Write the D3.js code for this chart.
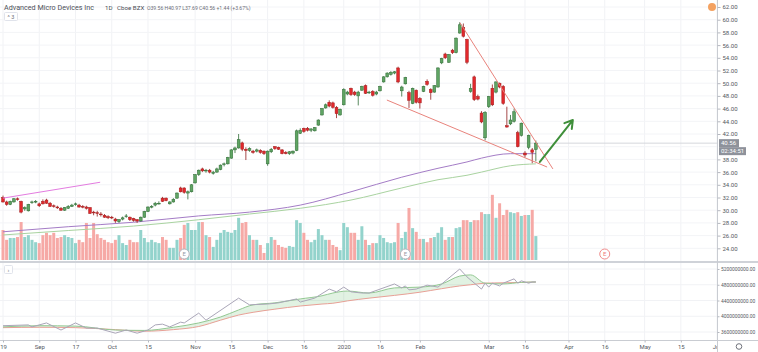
<!DOCTYPE html>
<html>
<head>
<meta charset="utf-8">
<script src="https://cdn.jsdelivr.net/npm/d3@7"></script>
<style>
body { margin: 0; background: #ffffff; }
svg { display: block; font-family: Roboto, 'Liberation Sans', sans-serif; }
</style>
</head>
<body>
<svg id="chart" width="758" height="352"></svg>
<script>
// daily candles, Aug 19 2019 .. Mar 2020 (bar index 0 = Aug 19)
var open = [32.0,31.3,30.9,31.3,31.8,31.4,30.2,29.9,31.2,31.3,
    31.0,31.4,31.6,31.1,30.7,30.5,30.3,30.0,30.3,30.6,
    30.9,30.8,30.6,30.5,30.4,29.7,29.6,29.4,29.2,29.0,
    28.9,28.6,28.2,28.6,29.0,28.9,28.7,28.5,28.3,28.9,
    29.8,30.5,30.8,31.1,31.9,31.9,31.0,31.3,31.9,33.5,
    33.5,32.7,32.9,34.3,35.6,36.5,36.2,36.3,35.8,36.0,
    36.4,37.2,37.3,38.2,39.5,39.8,40.6,39.6,39.4,39.3,
    39.3,39.4,39.3,37.3,39.2,40.0,39.9,39.5,39.1,38.9,
    39.0,39.4,42.1,42.9,42.9,42.6,42.5,43.4,45.0,46.1,
    47.0,46.9,46.2,45.0,46.6,48.3,49.2,48.6,48.0,48.9,
    49.6,48.5,48.7,48.3,48.8,50.2,51.0,51.4,51.6,52.4,
    48.8,49.9,48.5,46.8,48.9,47.6,48.7,50.3,49.0,48.6,
    49.4,53.2,54.6,53.3,55.2,54.8,57.9,58.8,56.9,48.7,
    51.0,47.9,45.3,41.4,46.3,49.2,48.6,50.0,49.5,43.3,
    43.6,44.0,42.2,41.8,39.0,39.9,39.5,39.56];
var high = [32.3,31.5,31.5,31.9,32.0,31.5,30.6,31.0,31.5,31.6,
    31.2,31.7,31.8,31.3,30.9,30.7,30.5,30.5,30.8,31.0,
    31.2,31.0,30.8,30.7,30.5,29.9,29.9,29.7,29.4,29.2,
    29.1,28.8,28.6,29.0,29.4,29.0,28.8,28.6,29.0,29.9,
    30.6,30.8,31.3,31.4,32.1,32.0,31.4,31.9,32.8,33.7,
    33.6,33.1,34.1,35.7,36.4,36.7,36.5,36.5,36.2,36.7,
    37.2,37.5,38.4,39.6,40.0,42.0,40.8,39.9,39.9,39.5,
    39.7,39.6,39.4,39.4,39.8,40.1,40.0,39.6,39.3,39.3,
    39.4,42.7,42.9,43.0,43.1,42.9,43.1,44.3,46.1,46.8,
    47.3,47.1,46.4,46.0,49.2,48.8,49.3,48.8,48.8,49.6,
    49.8,48.8,48.9,48.8,49.6,51.1,51.7,51.9,51.9,52.6,
    49.6,51.0,48.8,49.3,49.0,47.8,49.6,50.6,49.2,49.7,
    52.5,54.0,54.8,54.6,55.4,57.2,59.6,59.4,57.0,49.9,
    51.2,48.2,45.6,45.6,48.0,49.8,50.3,50.1,49.7,46.3,
    45.0,46.0,42.5,43.8,39.3,41.9,39.8,40.97];
var low = [31.2,30.7,30.8,31.2,31.5,29.5,29.9,29.8,31.0,31.1,
    30.5,30.9,31.0,30.5,30.4,30.2,29.9,29.9,30.2,30.5,
    30.7,30.4,30.3,30.1,29.4,29.2,29.0,29.0,28.8,28.6,
    28.6,28.0,28.0,28.4,28.8,28.3,28.2,28.0,28.2,28.8,
    29.7,30.3,30.6,30.9,31.3,31.4,30.9,31.2,31.8,32.8,
    32.6,31.7,32.8,34.2,35.4,36.0,35.9,35.8,35.6,35.9,
    36.3,36.9,37.2,38.1,39.0,39.7,39.3,37.9,39.2,38.9,
    39.1,38.9,38.7,37.0,39.0,39.5,39.5,38.8,38.8,38.7,
    38.8,39.3,42.0,42.2,42.4,42.3,42.4,43.3,44.9,46.0,
    46.2,46.0,44.5,44.9,46.5,48.1,48.0,48.0,46.5,48.8,
    48.3,48.3,47.9,48.1,48.7,50.1,50.9,51.2,51.4,50.0,
    47.9,49.8,46.1,46.7,46.8,46.0,48.6,49.6,47.4,48.5,
    49.3,53.0,53.8,53.2,54.6,54.7,57.8,57.2,53.0,48.5,
    47.2,47.3,43.7,41.0,46.1,46.4,48.4,49.2,46.6,43.0,
    43.4,43.8,39.9,41.6,38.3,39.6,37.4,37.69];
var close = [31.3,30.9,31.4,31.8,31.7,29.7,30.4,30.9,31.3,31.4,
    30.7,31.0,31.1,30.6,30.6,30.4,30.0,30.4,30.6,30.8,
    31.0,30.5,30.5,30.3,29.5,29.6,29.5,29.3,28.9,28.8,
    28.8,28.3,28.5,28.8,29.1,28.5,28.4,28.3,28.9,29.8,
    30.5,30.6,31.1,31.1,31.4,31.5,31.3,31.7,32.7,32.9,
    32.8,32.9,34.0,35.6,36.3,36.2,36.3,36.0,36.0,36.5,
    37.1,37.3,38.3,39.5,39.8,41.1,39.6,39.4,39.7,39.1,
    39.5,39.1,38.9,39.3,39.6,39.7,39.6,38.9,38.9,39.2,
    39.3,42.5,42.6,42.4,42.6,42.8,43.0,44.2,46.0,46.6,
    46.4,46.2,45.2,45.9,49.0,48.6,48.2,48.2,48.6,49.5,
    48.4,48.6,48.1,48.6,49.5,51.0,51.6,51.7,51.8,50.2,
    49.4,50.9,47.3,49.2,47.0,46.9,49.5,49.8,48.5,49.6,
    52.4,53.9,54.0,54.5,54.8,57.1,59.2,57.4,53.3,49.2,
    47.4,47.5,43.9,45.4,47.9,46.6,50.2,49.4,46.8,43.1,
    44.2,45.5,40.0,43.7,38.7,41.8,39.12,40.56];
// volume, millions of shares
var volume = [64,43,47,47,49,81,49,53,43,38,
    36,53,58,53,58,47,49,53,49,47,
    36,43,38,79,47,79,55,47,43,38,
    36,43,53,36,32,43,38,38,64,47,
    38,43,38,36,49,43,26,26,43,47,
    75,79,64,64,81,81,53,49,28,43,
    58,64,60,58,64,90,79,81,53,43,
    43,32,15,36,49,43,32,28,26,30,
    28,85,79,58,43,38,43,66,53,43,
    43,32,28,21,79,70,58,58,43,72,
    43,32,36,36,53,47,38,36,38,79,
    47,60,111,68,60,45,45,38,47,49,
    58,70,43,49,49,68,70,85,85,81,
    85,85,102,98,98,139,90,121,96,107,
    102,100,102,94,96,96,107,51];

// moving averages (sampled at bar indexes)
var maIdx = [0, 18, 36, 54, 68, 82, 96, 110, 120, 128, 132, 140, 147];
var maPurple = [26.6, 27.4, 28.1, 29.1, 29.7, 30.8, 32.9, 35.2, 36.6, 37.6, 38.2, 38.9, 38.9];
var maGreen = [26.1, 26.8, 27.5, 28.5, 29.4, 30.3, 31.6, 33.5, 34.8, 35.5, 36.0, 37.0, 37.3];

// lower pane (billions)
var obvIdx = [0,7,8,12,16,20,23,26,31,34,37,40,42,44,46,49,50,54,56,65,
    68,73,76,81,82,86,90,92,94,96,99,101,108,110,111,112,114,117,120,126,
    128,132,133,134,135,137,138,141,142,143,145,146,147];
var obvVal = [3.76,3.78,3.73,3.83,3.65,3.83,3.70,3.70,3.57,3.65,3.57,3.65,3.78,3.80,3.73,3.85,3.83,4.08,3.90,4.46,
    4.29,4.31,4.34,4.44,4.36,4.46,4.69,4.62,4.74,4.62,4.59,4.59,4.82,4.72,4.77,4.67,4.69,4.79,4.74,5.20,
    5.00,4.69,4.84,4.74,4.84,4.77,4.84,4.95,4.84,4.90,4.84,4.87,4.87];
var bandIdx = [0,10,20,31,39,47,54,60,65,69,75,82,88,91,95,101,108,115,121,126,129,133,138,143,147];
var bandFast = [3.73,3.76,3.75,3.65,3.64,3.72,3.83,3.98,4.16,4.29,4.34,4.44,4.52,4.59,4.64,4.59,4.72,4.74,4.82,5.02,5.05,4.84,4.82,4.86,4.87];
var bandSlow = [3.71,3.72,3.71,3.66,3.62,3.66,3.74,3.90,4.03,4.10,4.18,4.26,4.31,4.33,4.39,4.46,4.53,4.61,4.70,4.77,4.80,4.84,4.85,4.86,4.87];

// time axis ticks (bar index, label)
var tickIdx = [0, 10, 20, 30, 40, 53, 63, 73, 83, 94, 104, 115, 134, 144, 156, 166, 177, 187, 197];
var tickLabel = ['19', 'Sep', '17', 'Oct', '15', 'Nov', '15', 'Dec', '16', '2020', '16', 'Feb', 'Mar', '16', 'Apr', '16', 'May', '15', 'Jun'];
var priceTicks = [24, 26, 28, 30, 32, 34, 36, 38, 40, 42, 44, 46, 48, 50, 52, 54, 56, 58, 60, 62];
var lowTicks = [3.6, 4.0, 4.4, 4.8, 5.2];
var earningsIdx = [50, 111, 166];

// drawings: [bar index, price]
var wedgeUpper = [[126.1, 59.5], [151.7, 36.5]];
var wedgeLower = [[105.9, 47.35], [150.1, 36.8]];
var channelLine = [[0, 31.9], [26.8, 34.4]];
var arrowLine = [[148.1, 37.6], [157.2, 44.2]];

var lastPrice = 40.56;

//layout
var plotRight = 717, paneBottom = 261, lowTop = 263, lowBottom = 340;

var svg = d3.select('#chart');

var x = d3.scaleLinear().domain([0, 197]).range([3, 717.1]);
var y = d3.scaleLinear().domain([24, 62]).range([248.3, 7]);
var yVol = d3.scaleLinear().domain([0, 160]).range([260, 185]);
var yLow = d3.scaleLinear().domain([3.6, 5.2]).range([332, 269]);

var defs = svg.append('defs');
defs.append('clipPath').attr('id', 'clipMain')
    .append('rect').attr('x', 0).attr('y', 0).attr('width', plotRight).attr('height', paneBottom);
defs.append('clipPath').attr('id', 'clipLow')
    .append('rect').attr('x', 0).attr('y', lowTop).attr('width', plotRight).attr('height', lowBottom - lowTop);
defs.append('clipPath').attr('id', 'clipAxisT')
    .append('rect').attr('x', 0).attr('y', -2).attr('width', plotRight).attr('height', 14);

// grid
var grid = svg.append('g').attr('class', 'grid');
grid.selectAll('.vgrid').data(tickIdx).enter().append('line')
    .attr('x1', function (d) { return x(d); }).attr('x2', function (d) { return x(d); })
    .attr('y1', 0).attr('y2', lowBottom)
    .attr('stroke', '#f1f2f5').attr('stroke-width', 1);
grid.selectAll('.hgrid').data(priceTicks).enter().append('line')
    .attr('x1', 0).attr('x2', plotRight)
    .attr('y1', function (d) { return y(d); }).attr('y2', function (d) { return y(d); })
    .attr('stroke', '#f3f4f7').attr('stroke-width', 1);
grid.selectAll('.lgrid').data(lowTicks).enter().append('line')
    .attr('x1', 0).attr('x2', plotRight)
    .attr('y1', function (d) { return yLow(d); }).attr('y2', function (d) { return yLow(d); })
    .attr('stroke', '#f1f2f5').attr('stroke-width', 1);

var bars = close.map(function (c, i) {
    return { i: i, o: open[i], h: high[i], l: low[i], c: c, v: volume[i] };
});

var main = svg.append('g').attr('clip-path', 'url(#clipMain)');

// volume
main.selectAll('.vol').data(bars).enter().append('rect')
    .attr('x', function (d) { return x(d.i) - 1.5; })
    .attr('width', 3)
    .attr('y', function (d) { return yVol(d.v); })
    .attr('height', function (d) { return yVol(0) - yVol(d.v); })
    .attr('fill', function (d) { return d.c >= d.o ? '#93d3cc' : '#f6a9a6'; });

// moving averages
var maLine = function (vals) {
    return d3.line()
        .x(function (d, i) { return x(maIdx[i]); })
        .y(function (d) { return y(d); })
        .curve(d3.curveMonotoneX)(vals);
};
main.append('path').attr('d', maLine(maGreen))
    .attr('fill', 'none').attr('stroke', '#a9d3a0').attr('stroke-width', 1);
main.append('path').attr('d', maLine(maPurple))
    .attr('fill', 'none').attr('stroke', '#a47cc6').attr('stroke-width', 1);

// last price line
main.append('line')
    .attr('x1', 0).attr('x2', plotRight)
    .attr('y1', y(lastPrice)).attr('y2', y(lastPrice))
    .attr('stroke', '#d5d7dc').attr('stroke-width', 1);

// candles
var candle = main.selectAll('.candle').data(bars).enter().append('g');
candle.append('line')
    .attr('x1', function (d) { return x(d.i); }).attr('x2', function (d) { return x(d.i); })
    .attr('y1', function (d) { return y(d.h); }).attr('y2', function (d) { return y(d.l); })
    .attr('stroke', function (d) { return d.c >= d.o ? '#2f6b35' : '#8e1c1c'; })
    .attr('stroke-width', 0.8);
candle.append('rect')
    .attr('x', function (d) { return x(d.i) - 1.4; })
    .attr('width', 2.8)
    .attr('y', function (d) { return y(Math.max(d.o, d.c)); })
    .attr('height', function (d) { return Math.max(0.8, Math.abs(y(d.o) - y(d.c))); })
    .attr('fill', function (d) { return d.c >= d.o ? '#5fa463' : '#e2282c'; })
    .attr('stroke', function (d) { return d.c >= d.o ? '#2f6b35' : '#a31e1e'; })
    .attr('stroke-width', 0.5);

// drawings
var pt = function (p) { return [x(p[0]), y(p[1])]; };
var seg = d3.line();
main.append('path').attr('d', seg(channelLine.map(pt)))
    .attr('stroke', '#e37ce0').attr('stroke-width', 1).attr('fill', 'none');
main.append('path').attr('d', seg(wedgeUpper.map(pt)))
    .attr('stroke', '#e8837c').attr('stroke-width', 1).attr('fill', 'none');
main.append('path').attr('d', seg(wedgeLower.map(pt)))
    .attr('stroke', '#e8837c').attr('stroke-width', 1).attr('fill', 'none');
var a0 = pt(arrowLine[0]), a1 = pt(arrowLine[1]);
var ang = Math.atan2(a1[1] - a0[1], a1[0] - a0[0]);
var headLen = 9;
main.append('path')
    .attr('d', seg([a0, a1]) + 'M' + seg([
        [a1[0] - headLen * Math.cos(ang - 0.55), a1[1] - headLen * Math.sin(ang - 0.55)],
        a1,
        [a1[0] - headLen * Math.cos(ang + 0.55), a1[1] - headLen * Math.sin(ang + 0.55)]
    ]).slice(1))
    .attr('stroke', '#3f8f3a').attr('stroke-width', 2).attr('fill', 'none')
    .attr('stroke-linecap', 'round').attr('stroke-linejoin', 'round');

// earnings markers
var ev = svg.selectAll('.earn').data(earningsIdx).enter().append('g')
    .attr('transform', function (d) { return 'translate(' + x(d) + ',254)'; });
ev.append('circle').attr('r', 5).attr('fill', '#ffffff')
    .attr('stroke', function (d, i) { return i === 2 ? '#f08c8c' : '#b4b7bf'; }).attr('stroke-width', 1);
ev.append('text').attr('y', 2.2).attr('text-anchor', 'middle')
    .attr('font-size', 6).attr('fill', function (d, i) { return i === 2 ? '#ee7d7d' : '#9a9da5'; })
    .text('E');

// lower pane
var low = svg.append('g').attr('clip-path', 'url(#clipLow)');
low.append('path')
    .attr('d', d3.area()
        .x(function (d, i) { return x(bandIdx[i]); })
        .y0(function (d, i) { return yLow(bandSlow[i]); })
        .y1(function (d) { return yLow(d); })
        .curve(d3.curveMonotoneX)(bandFast))
    .attr('fill', 'rgba(90,185,95,0.18)');
low.append('path')
    .attr('d', d3.line()
        .x(function (d, i) { return x(bandIdx[i]); })
        .y(function (d) { return yLow(d); })
        .curve(d3.curveMonotoneX)(bandSlow))
    .attr('fill', 'none').attr('stroke', '#e8a096').attr('stroke-width', 1);
low.append('path')
    .attr('d', d3.line()
        .x(function (d, i) { return x(bandIdx[i]); })
        .y(function (d) { return yLow(d); })
        .curve(d3.curveMonotoneX)(bandFast))
    .attr('fill', 'none').attr('stroke', '#93c892').attr('stroke-width', 1);
low.append('path')
    .attr('d', d3.line()
        .x(function (d, i) { return x(obvIdx[i]); })
        .y(function (d) { return yLow(d); })(obvVal))
    .attr('fill', 'none').attr('stroke', '#aaa6b8').attr('stroke-width', 1);

// pane separators and axis lines
svg.append('line').attr('x1', 0).attr('x2', 758).attr('y1', 262).attr('y2', 262)
    .attr('stroke', '#cfd2d8').attr('stroke-width', 2);
svg.append('line').attr('x1', 0).attr('x2', 758).attr('y1', lowBottom + 0.5).attr('y2', lowBottom + 0.5)
    .attr('stroke', '#c9ccd2').attr('stroke-width', 1);
svg.append('line').attr('x1', plotRight + 0.5).attr('x2', plotRight + 0.5).attr('y1', 0).attr('y2', 352)
    .attr('stroke', '#c9ccd2').attr('stroke-width', 1);

// price axis
var yAxis = d3.axisRight(y).tickValues(priceTicks.filter(function (d) { return d !== 40; }))
    .tickFormat(function (d) { return d.toFixed(2); }).tickSize(3).tickPadding(2);
var ya = svg.append('g').attr('transform', 'translate(' + (plotRight + 0.5) + ',0)').call(yAxis);
ya.select('.domain').remove();
ya.selectAll('line').attr('stroke', '#b5b8c0');
ya.selectAll('text').attr('font-size', 6).attr('fill', '#555861').attr('font-family', 'Roboto, sans-serif');

var lowAxis = d3.axisRight(yLow).tickValues(lowTicks)
    .tickFormat(function (d) { return (Math.round(d * 10) * 1e8).toFixed(2); }).tickSize(2).tickPadding(1.5);
var la = svg.append('g').attr('transform', 'translate(' + (plotRight + 0.5) + ',0)').call(lowAxis);
la.select('.domain').remove();
la.selectAll('line').attr('stroke', '#b5b8c0');
la.selectAll('text').attr('font-size', 4.9).attr('fill', '#555861').attr('font-family', 'Roboto, sans-serif');

// time axis
var xAxis = d3.axisBottom(x).tickValues(tickIdx)
    .tickFormat(function (d, i) { return tickLabel[i]; }).tickSize(2).tickPadding(2);
var xa = svg.append('g').attr('transform', 'translate(0,' + (lowBottom + 0.5) + ')')
    .attr('clip-path', 'url(#clipAxisT)').call(xAxis);
xa.select('.domain').remove();
xa.selectAll('line').attr('stroke', '#b5b8c0');
xa.selectAll('text').attr('font-size', 6).attr('fill', '#555861').attr('font-family', 'Roboto, sans-serif');

// last price tag + countdown
var tag = svg.append('g').attr('transform', 'translate(' + (plotRight + 1) + ',' + y(lastPrice) + ')');
tag.append('rect').attr('x', 1).attr('y', -4).attr('width', 20).attr('height', 8).attr('fill', '#8e929b');
tag.append('text').attr('x', 3).attr('y', 2.2).attr('font-size', 6).attr('fill', '#ffffff').text('40.56');
tag.append('rect').attr('x', 1).attr('y', 4).attr('width', 27).attr('height', 8).attr('fill', '#8e929b');
tag.append('text').attr('x', 3).attr('y', 10.2).attr('font-size', 6).attr('fill', '#ffffff').text('02:34:51');

// top-right marker
svg.append('circle').attr('cx', 712).attr('cy', 7).attr('r', 4).attr('fill', '#f4a261');

// settings icon bottom right
svg.append('circle').attr('cx', 739).attr('cy', 346.5).attr('r', 2.8)
    .attr('fill', 'none').attr('stroke', '#70737c').attr('stroke-width', 1);

// header
var hdr = svg.append('g').attr('fill', '#4c4f57');
hdr.append('text').attr('x', 4).attr('y', 9.5).attr('font-size', 7.2).text('Advanced Micro Devices Inc');
hdr.append('text').attr('x', 105).attr('y', 9.5).attr('font-size', 6.2).text('1D');
hdr.append('text').attr('x', 117).attr('y', 9.5).attr('font-size', 6.2).text('Cboe BZX');
hdr.append('text').attr('x', 147).attr('y', 9.5).attr('font-size', 5.1).attr('fill', '#6b6e77')
    .text('O39.56 H40.97 L37.69 C40.56 +1.44 (+3.67%)');

var btn = svg.append('g');
btn.append('rect').attr('x', 4.5).attr('y', 12.5).attr('width', 13).attr('height', 8).attr('rx', 1)
    .attr('fill', '#ffffff').attr('stroke', '#e0e3eb');
btn.append('text').attr('x', 11).attr('y', 18.5).attr('text-anchor', 'middle')
    .attr('font-size', 5.5).attr('fill', '#6b6e77').text('^ 3');
var btn2 = svg.append('g');
btn2.append('rect').attr('x', 4.5).attr('y', 265.5).attr('width', 8).attr('height', 8).attr('rx', 1)
    .attr('fill', '#ffffff').attr('stroke', '#e0e3eb');
btn2.append('text').attr('x', 8.5).attr('y', 271.5).attr('text-anchor', 'middle')
    .attr('font-size', 6).attr('fill', '#6b6e77').text('›');
</script>
</body>
</html>
